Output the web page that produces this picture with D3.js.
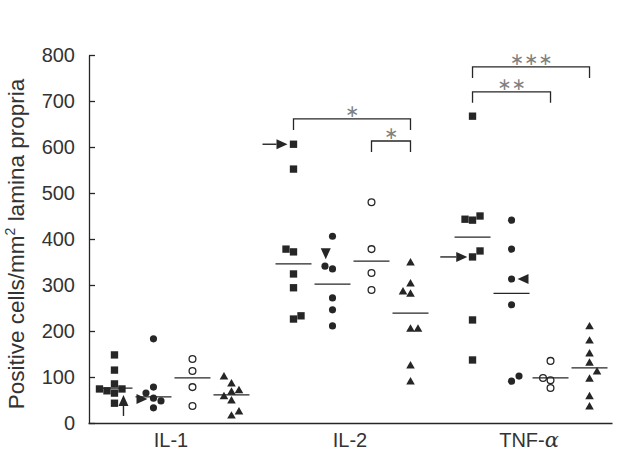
<!DOCTYPE html>
<html>
<head>
<meta charset="utf-8">
<script src="https://cdn.jsdelivr.net/npm/d3@7"></script>
<style>
  html, body { margin: 0; padding: 0; background: #fff; }
  svg { display: block; font-family: "Liberation Sans", Arial, Helvetica, sans-serif; }
</style>
</head>
<body>
<svg id="chart" width="617" height="458"></svg>
<script>
// ---- data ----
const categories = ["IL-1", "IL-2", "TNF-α"];
const series = ["square", "circle", "open", "triangle"];
const yTicks = [0, 100, 200, 300, 400, 500, 600, 700, 800];
// points: [value, jitter column]
const il1Squares   = [[148,0],[115,0],[85,0],[74,-2],[70,-1],[74,1],[65,0],[43,0]];
const il1Circles   = [[183,0],[78,0],[65,-1],[54,0],[48,1],[33,0]];
const il1Open      = [[139,0],[113,0],[78,0],[37,0]];
const il1Triangles = [[100,-1],[85,0],[70,1],[67,0],[57,-1],[48,0],[24,1],[15,0]];
const il2Squares   = [[606,0],[552,0],[378,-1],[372,0],[324,0],[294,0],[233,1],[226,0]];
const il2Circles   = [[406,0],[341,-1],[335,0],[272,0],[246,0],[211,0]];
const il2Open      = [[480,0],[378,0],[326,0],[289,0]];
const il2Triangles = [[348,0],[302,0],[285,-1],[280,0],[204,0],[204,1],[124,0],[89,0]];
const tnfSquares   = [[667,0],[443,-1],[441,0],[450,1],[374,1],[361,0],[224,0],[137,0]];
const tnfCircles   = [[441,0],[378,0],[313,0],[257,0],[102,1],[91,0]];
const tnfOpen      = [[135,0],[98,-1],[93,0],[76,0]];
const tnfTriangles = [[209,0],[178,0],[150,0],[130,0],[111,1],[95,0],[57,0],[35,0]];
const medians = {
  "IL-1":  [76, 57, 98, 61],
  "IL-2":  [346, 302, 352, 239],
  "TNF-α": [404, 282, 98, 120]
};
// arrows: [category, series, tip value, jitter column, direction, tail length]
const arrows = [
  ["IL-1", "square", 61, 1.2, "up", 10],
  ["IL-1", "circle", 52, -0.8, "right", 0],
  ["IL-2", "square", 606, -0.8, "right", 14],
  ["IL-2", "circle", 356, -0.9, "down", 0],
  ["TNF-α", "square", 361, -0.7, "right", 16],
  ["TNF-α", "circle", 313, 0.8, "left", 0]
];
// significance: [category, from series, to series, bracket value, label]
const brackets = [
  ["IL-2", "square", "triangle", 661, "∗"],
  ["IL-2", "open", "triangle", 613, "∗"],
  ["TNF-α", "square", "triangle", 774, "∗∗∗"],
  ["TNF-α", "square", "open", 720, "∗∗"]
];

const groups = [
  ["IL-1", "square", il1Squares], ["IL-1", "circle", il1Circles], ["IL-1", "open", il1Open], ["IL-1", "triangle", il1Triangles],
  ["IL-2", "square", il2Squares], ["IL-2", "circle", il2Circles], ["IL-2", "open", il2Open], ["IL-2", "triangle", il2Triangles],
  ["TNF-α", "square", tnfSquares], ["TNF-α", "circle", tnfCircles], ["TNF-α", "open", tnfOpen], ["TNF-α", "triangle", tnfTriangles]
];

// ---- scales ----
const svg = d3.select("#chart");
const ink = "#262626";
const x = d3.scaleBand().domain(categories).range([88, 612]).paddingInner(0.073).paddingOuter(0);
const xs = d3.scaleBand().domain(series).range([-76, 80]);
const jit = d3.scaleLinear().domain([0, 1]).range([0, 7.5]);
const y = d3.scaleLinear().domain([0, 800]).range([423, 55]);
const cx = (cat, s, col) => x(cat) + x.bandwidth() / 2 + xs(s) + xs.bandwidth() / 2 + jit(col || 0);

// ---- axes ----
const yAxis = d3.axisLeft(y).tickValues(yTicks).tickSizeInner(-6).tickSizeOuter(0).tickPadding(14);
const gy = svg.append("g").attr("transform", "translate(89,0)").call(yAxis);
gy.select(".domain").attr("stroke", ink).attr("stroke-width", 1.3);
gy.selectAll(".tick line").attr("stroke", ink).attr("stroke-width", 1.3);
gy.selectAll(".tick text").attr("font-size", 20).attr("fill", "#333").attr("font-family", "Liberation Sans, Arial, sans-serif");

const xAxis = d3.axisBottom(x).tickSize(0).tickPadding(10);
const gx = svg.append("g").attr("transform", "translate(0,423)").call(xAxis);
gx.select(".domain").attr("stroke", ink).attr("stroke-width", 1.3);
gx.selectAll(".tick text").attr("font-size", 20).attr("fill", "#333").attr("font-family", "Liberation Sans, Arial, sans-serif")
  .each(function(d) {
    if (d === "TNF-α") {
      const t = d3.select(this).text("");
      t.append("tspan").text("TNF-");
      t.append("tspan").attr("font-family", "DejaVu Serif, serif").attr("font-style", "italic").attr("font-size", 21).text("α");
    }
  });

// y title
const title = svg.append("text")
  .attr("transform", "translate(24,244) rotate(-90)")
  .attr("text-anchor", "middle")
  .attr("font-size", 22.5)
  .attr("fill", "#333");
title.append("tspan").text("Positive cells/mm");
title.append("tspan").attr("font-size", 14).attr("dy", -9).text("2");
title.append("tspan").attr("dy", 9).text(" lamina propria");

// ---- points ----
const sym = {
  square: d3.symbol().type(d3.symbolSquare).size(54),
  circle: d3.symbol().type(d3.symbolCircle).size(40),
  open: d3.symbol().type(d3.symbolCircle).size(36),
  triangle: d3.symbol().type(d3.symbolTriangle).size(32)
};
const plot = svg.append("g");
groups.forEach(([cat, s, pts]) => {
  plot.selectAll(null).data(pts).enter().append("path")
    .attr("d", sym[s]())
    .attr("transform", d => `translate(${cx(cat, s, d[1])},${y(d[0])})`)
    .attr("fill", s === "open" ? "#fff" : ink)
    .attr("stroke", s === "open" ? ink : "none")
    .attr("stroke-width", 1.3);
});

// medians
categories.forEach(cat => {
  series.forEach((s, i) => {
    const c = cx(cat, s, 0);
    plot.append("line")
      .attr("x1", c - 18).attr("x2", c + 18)
      .attr("y1", y(medians[cat][i])).attr("y2", y(medians[cat][i]))
      .attr("stroke", ink).attr("stroke-width", 1.3);
  });
});

// arrows
const dirs = { up: [0, -1], down: [0, 1], left: [-1, 0], right: [1, 0] };
arrows.forEach(([cat, s, v, col, dir, tail]) => {
  const tx = cx(cat, s, col), ty = y(v);
  const [dx, dy] = dirs[dir];
  const len = 11, hw = 5;
  const bx = tx - dx * len, by = ty - dy * len;
  const px = -dy, py = dx;
  if (tail > 0) {
    plot.append("line")
      .attr("x1", bx).attr("y1", by)
      .attr("x2", bx - dx * tail).attr("y2", by - dy * tail)
      .attr("stroke", ink).attr("stroke-width", 1.4);
  }
  plot.append("path")
    .attr("d", `M${tx},${ty}L${bx + px * hw},${by + py * hw}L${bx - px * hw},${by - py * hw}Z`)
    .attr("fill", ink);
});

// significance brackets
brackets.forEach(([cat, s1, s2, v, lab]) => {
  const x1 = cx(cat, s1, 0), x2 = cx(cat, s2, 0), yy = y(v);
  plot.append("path")
    .attr("d", `M${x1},${yy + 11}V${yy}H${x2}V${yy + 11}`)
    .attr("fill", "none").attr("stroke", ink).attr("stroke-width", 1.3);
  plot.append("text")
    .attr("x", (x1 + x2) / 2).attr("y", yy - 2)
    .attr("text-anchor", "middle")
    .attr("font-family", "DejaVu Sans, sans-serif")
    .attr("font-size", 17).attr("fill", "#808080")
    .text(lab);
});
</script>
</body>
</html>
